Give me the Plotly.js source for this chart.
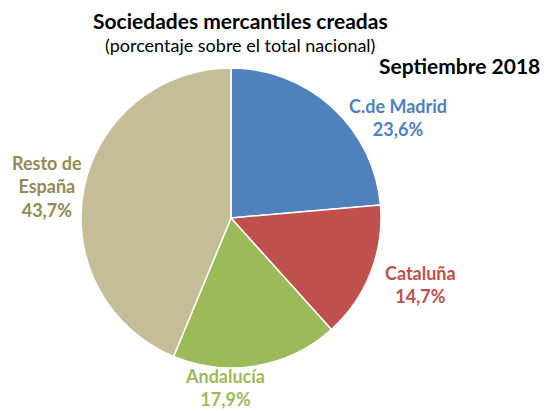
<!DOCTYPE html>
<html>
<head>
<meta charset="utf-8">
<script src="https://cdn.plot.ly/plotly-3.0.1.min.js"></script>
<style>html,body{margin:0;padding:0;background:#fff;}#chart{width:557px;height:411px;}</style>
</head>
<body>
<div id="chart"></div>
<script>
const regions = ["C.de Madrid", "Cataluña", "Andalucía", "Resto de<br>España"];
const shares = [23.6, 14.7, 17.9, 43.7];
const sliceColors = ["#4F81BD", "#C0504D", "#9BBB59", "#C4BD97"];
const labelColors = ["#4F81BD", "#C0504D", "#9BBB59", "#948A54"];
const titleText = "Sociedades mercantiles creadas";
const subtitleText = "(porcentaje sobre el total nacional)";
const periodText = "Septiembre 2018";

const W = 557, H = 411;
const fx = px => px / W;
const fy = py => 1 - py / H;
const FONT = "Lato, 'Open Sans', sans-serif";

// label anchor positions (pixels, centre of label block)
const labelPos = [[398, 117], [420, 284], [225, 387], [47, 186]];

const fmt = v => v.toFixed(1).replace(".", ",") + "%";

const annotations = regions.map((r, i) => ({
  text: "<b>" + r + "<br>" + fmt(shares[i]) + "</b>",
  x: fx(labelPos[i][0]), y: fy(labelPos[i][1]),
  xref: "paper", yref: "paper", xanchor: "center", yanchor: "middle",
  showarrow: false, align: "center",
  font: {family: FONT, size: 18, color: labelColors[i]}
}));
annotations.push(
  {text: "<b>" + titleText + "</b>", x: fx(241), y: fy(20), xref: "paper", yref: "paper",
   xanchor: "center", yanchor: "middle", showarrow: false,
   font: {family: FONT, size: 21, color: "#000"}},
  {text: subtitleText, x: fx(240), y: fy(45), xref: "paper", yref: "paper",
   xanchor: "center", yanchor: "middle", showarrow: false,
   font: {family: FONT, size: 18, color: "#000"}},
  {text: "<b>" + periodText + "</b>", x: fx(459), y: fy(65), xref: "paper", yref: "paper",
   xanchor: "center", yanchor: "middle", showarrow: false,
   font: {family: FONT, size: 21, color: "#000"}}
);

const data = [{
  type: "pie",
  labels: regions,
  values: shares,
  sort: false,
  direction: "clockwise",
  rotation: 0,
  textinfo: "none",
  hoverinfo: "label+percent",
  marker: {colors: sliceColors, line: {color: "#fff", width: 1.5}},
  domain: {x: [fx(81), fx(381)], y: [fy(368), fy(68)]}
}];

const layout = {
  width: W, height: H,
  margin: {l: 0, r: 0, t: 0, b: 0},
  showlegend: false,
  paper_bgcolor: "#fff",
  annotations: annotations
};

Plotly.newPlot("chart", data, layout, {displayModeBar: false, staticPlot: true});
</script>
</body>
</html>
